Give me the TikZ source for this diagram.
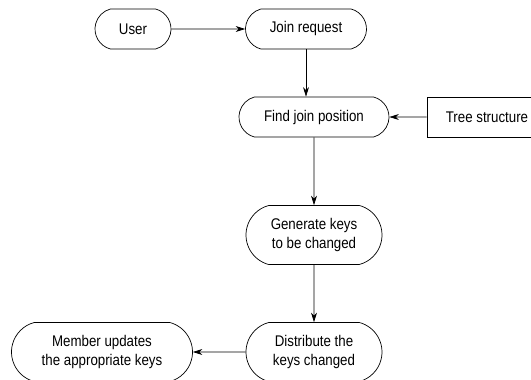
\documentclass[tikz,border=0pt]{standalone}
\usepackage{fontspec}
\setmainfont[FakeStretch=0.86]{Liberation Sans}
\usetikzlibrary{shapes.misc}
\usetikzlibrary{arrows.meta}
\tikzset{
	roundbox/.style={draw, rounded rectangle, rounded rectangle arc length=150, line width=0.6pt, align=center, font=\fontsize{13.2}{16}\selectfont, inner sep=0pt},
	plainbox/.style={draw, rectangle, line width=0.6pt, font=\fontsize{13.2}{16}\selectfont, inner sep=0pt},
	flow/.style={-{Stealth[length=8pt, width=5pt, inset=2.5pt]}, line width=0.6pt}
}

\begin{document}
\begin{tikzpicture}
	\useasboundingbox (0,0) rectangle (15.93,-11.4);
	
	\node[roundbox, minimum width=2.28cm, minimum height=1.2cm] (user) at (3.99,-0.87) {User};
	\node[roundbox, minimum width=3.63cm, minimum height=1.2cm] (join) at (9.18,-0.87) {Join request};
	\node[roundbox, minimum width=4.5cm, minimum height=1.2cm] (find) at (9.42,-3.51) {Find join position};
	\node[plainbox, minimum width=3.6cm, minimum height=1.2cm] (tree) at (14.61,-3.51) {Tree structure};
	\node[roundbox, minimum width=4.08cm, minimum height=1.77cm] (gen) at (9.42,-7.05) {Generate keys\\to be changed};
	\node[roundbox, minimum width=4.08cm, minimum height=1.77cm] (dist) at (9.42,-10.56) {Distribute the\\keys changed};
	\node[roundbox, minimum width=5.43cm, minimum height=1.77cm] (member) at (3.06,-10.56) {Member updates\\the appropriate keys};
	
	\draw[flow] (user) -- (join);
	\draw[flow] (join.south) -- (join.south |- find.north);
	\draw[flow] (tree) -- (find);
	\draw[flow] (find) -- (gen);
	\draw[flow] (gen) -- (dist);
	\draw[flow] (dist) -- (member);
	
\end{tikzpicture}
\end{document}
